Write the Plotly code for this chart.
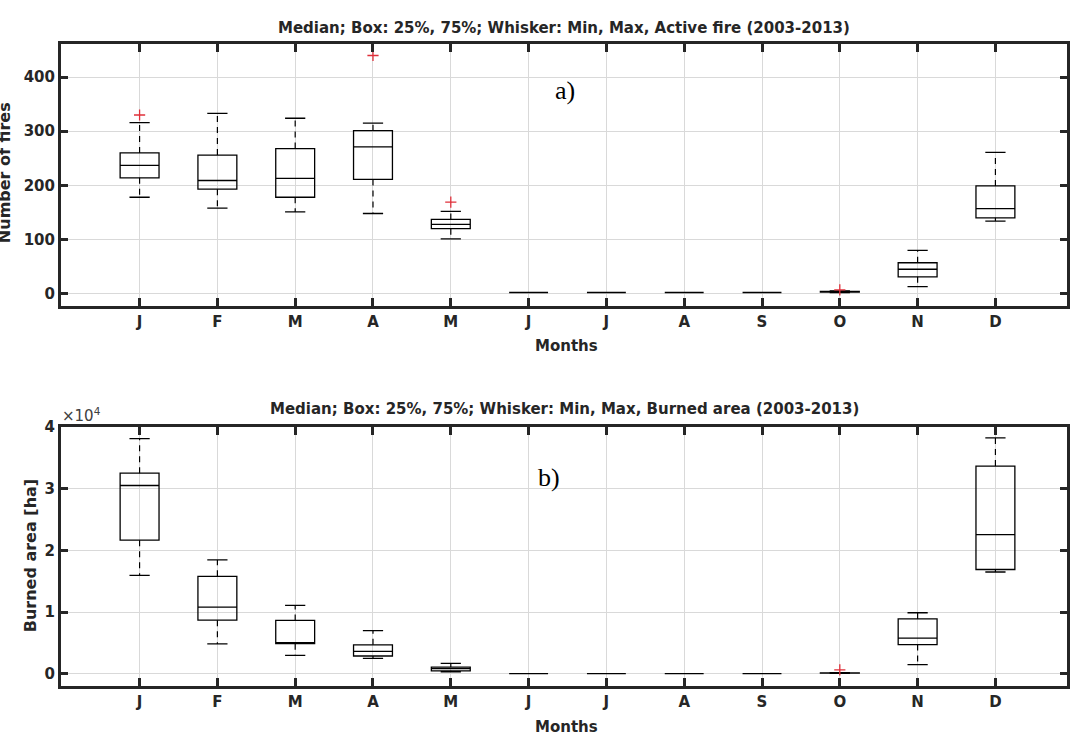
import plotly.graph_objects as go

months = ["J", "F", "M", "A", "M", "J", "J", "A", "S", "O", "N", "D"]
pos = list(range(1, 13))

# Active fire (numbers)
af_min = [178, 158, 151, 148, 101, 2, 2, 2, 2, 2, 13, 134]
af_q1 = [214, 193, 178, 211, 120, 2, 2, 2, 2, 3, 31, 140]
af_med = [237, 209, 213, 271, 128, 2, 2, 2, 2, 4, 45, 157]
af_q3 = [260, 256, 268, 301, 137, 2, 2, 2, 2, 4, 57, 199]
af_max = [316, 333, 324, 315, 152, 2, 2, 2, 2, 5, 80, 261]
af_out_x = [1, 4, 5, 10]
af_out_y = [330, 440, 169, 7]

# Burned area (ha)
ba_min = [15950, 4850, 3000, 2500, 350, 50, 50, 50, 50, 100, 1500, 16500]
ba_q1 = [21650, 8700, 4900, 2900, 500, 50, 50, 50, 50, 120, 4750, 16900]
ba_med = [30500, 10800, 5000, 3630, 850, 50, 50, 50, 50, 150, 5800, 22560]
ba_q3 = [32500, 15800, 8650, 4700, 1100, 50, 50, 50, 50, 180, 8900, 33650]
ba_max = [38100, 18450, 11100, 7000, 1700, 50, 50, 50, 50, 200, 9900, 38200]
ba_out_x = [10]
ba_out_y = [650]

title_a = "Median; Box: 25%, 75%; Whisker: Min, Max, Active fire (2003-2013)"
title_b = "Median; Box: 25%, 75%; Whisker: Min, Max, Burned area (2003-2013)"

W, H = 1070, 736
BOX_W = 0.5
CAP_HALF = 0.13
fig = go.Figure()

box_style = dict(line=dict(color="black", width=1.3), fillcolor="rgba(255,255,255,0)",
                 width=BOX_W, whiskerwidth=0, showlegend=False, hoverinfo="skip")


def add_panel(xa, ya, vmin, q1, med, q3, vmax, out_x, out_y):
    # box body (whiskers drawn separately, dashed as in MATLAB)
    fig.add_trace(go.Box(x=pos, q1=q1, median=med, q3=q3, lowerfence=q1, upperfence=q3,
                         xaxis=xa, yaxis=ya, **box_style))
    wx, wy, cx, cy = [], [], [], []
    for p, lo, a, b, hi in zip(pos, vmin, q1, q3, vmax):
        if hi > b:
            wx += [p, p, None]
            wy += [b, hi, None]
        if lo < a:
            wx += [p, p, None]
            wy += [a, lo, None]
        if hi > lo:
            cx += [p - CAP_HALF, p + CAP_HALF, None, p - CAP_HALF, p + CAP_HALF, None]
            cy += [hi, hi, None, lo, lo, None]
    fig.add_trace(go.Scatter(x=wx, y=wy, mode="lines", xaxis=xa, yaxis=ya,
                             line=dict(color="black", width=1.2, dash="6px,5px"),
                             showlegend=False, hoverinfo="skip"))
    fig.add_trace(go.Scatter(x=cx, y=cy, mode="lines", xaxis=xa, yaxis=ya,
                             line=dict(color="black", width=1.3),
                             showlegend=False, hoverinfo="skip"))
    fig.add_trace(go.Scatter(x=out_x, y=out_y, mode="markers", xaxis=xa, yaxis=ya,
                             marker=dict(symbol="cross-thin", size=8,
                                         line=dict(color="#e0303a", width=1.3)),
                             showlegend=False, hoverinfo="skip"))


add_panel("x", "y", af_min, af_q1, af_med, af_q3, af_max, af_out_x, af_out_y)
add_panel("x2", "y2", ba_min, ba_q1, ba_med, ba_q3, ba_max, ba_out_x, ba_out_y)

tickfont = dict(family="DejaVu Sans", size=15, color="#262626")
xcommon = dict(range=[-0.01, 12.92], tickvals=pos, ticktext=[f"<b>{m}</b>" for m in months],
               tickfont=tickfont, showgrid=True, gridcolor="#d9d9d9", gridwidth=1,
               zeroline=False, showline=True, linecolor="#262626", linewidth=3,
               mirror="ticks", ticks="inside", ticklen=8, tickwidth=3, tickcolor="#262626")
ycommon = dict(showgrid=True, gridcolor="#d9d9d9", gridwidth=1, zeroline=False,
               showline=True, linecolor="#262626", linewidth=3, mirror="ticks",
               ticks="inside", ticklen=7, tickwidth=3, tickcolor="#262626",
               tickfont=dict(family="DejaVu Sans", size=15, color="#262626"))


def dom(top, bottom):
    return [1 - bottom / H, 1 - top / H]


fig.update_layout(
    width=W, height=H, plot_bgcolor="white", paper_bgcolor="white",
    margin=dict(l=61, r=0, t=0, b=0),
    xaxis=dict(domain=[0, 1], anchor="y", **xcommon),
    yaxis=dict(domain=dom(35, 301), anchor="x", range=[-23.5, 462],
               tickvals=[0, 100, 200, 300, 400],
               ticktext=["<b>0</b>", "<b>100</b>", "<b>200</b>", "<b>300</b>", "<b>400</b>"],
               **ycommon),
    xaxis2=dict(domain=[0, 1], anchor="y2", **xcommon),
    yaxis2=dict(domain=dom(423, 685), anchor="x2", range=[-1900, 40000],
                tickvals=[0, 10000, 20000, 30000, 40000],
                ticktext=["<b>0</b>", "<b>1</b>", "<b>2</b>", "<b>3</b>", "<b>4</b>"],
                **ycommon),
)


def px_x(p):
    return (p - 61) / (W - 61)


def px_y(p):
    return 1 - p / H


tfont = dict(family="DejaVu Sans", size=15, color="#262626")
ann = [
    dict(text=f"<b>{title_a}</b>", x=px_x(566), y=px_y(19), font=tfont),
    dict(text=f"<b>{title_b}</b>", x=px_x(566), y=px_y(405), font=tfont),
    dict(text="<b>Months</b>", x=px_x(568), y=px_y(341), font=tfont),
    dict(text="<b>Months</b>", x=px_x(568), y=px_y(727), font=tfont),
    dict(text="<b>Number of fires</b>", x=px_x(5), y=px_y(166), textangle=-90,
         font=dict(family="DejaVu Sans", size=16, color="#262626")),
    dict(text="<b>Burned area [ha]</b>", x=px_x(30), y=px_y(554), textangle=-90,
         font=dict(family="DejaVu Sans", size=16, color="#262626")),
    dict(text="×10<sup>4</sup>", x=px_x(82), y=px_y(411),
         font=dict(family="DejaVu Sans", size=15, color="#404040")),
    dict(text="a)", x=px_x(567), y=px_y(83),
         font=dict(family="Liberation Serif", size=26, color="black")),
    dict(text="b)", x=px_x(550), y=px_y(474),
         font=dict(family="Liberation Serif", size=26, color="black")),
]
for a in ann:
    a.update(xref="paper", yref="paper", showarrow=False, xanchor="center", yanchor="middle")
fig.update_layout(annotations=ann)

fig.write_html("out.html", config={"displayModeBar": False},
               post_script="document.body.style.margin='0';document.body.style.overflow='hidden';")
